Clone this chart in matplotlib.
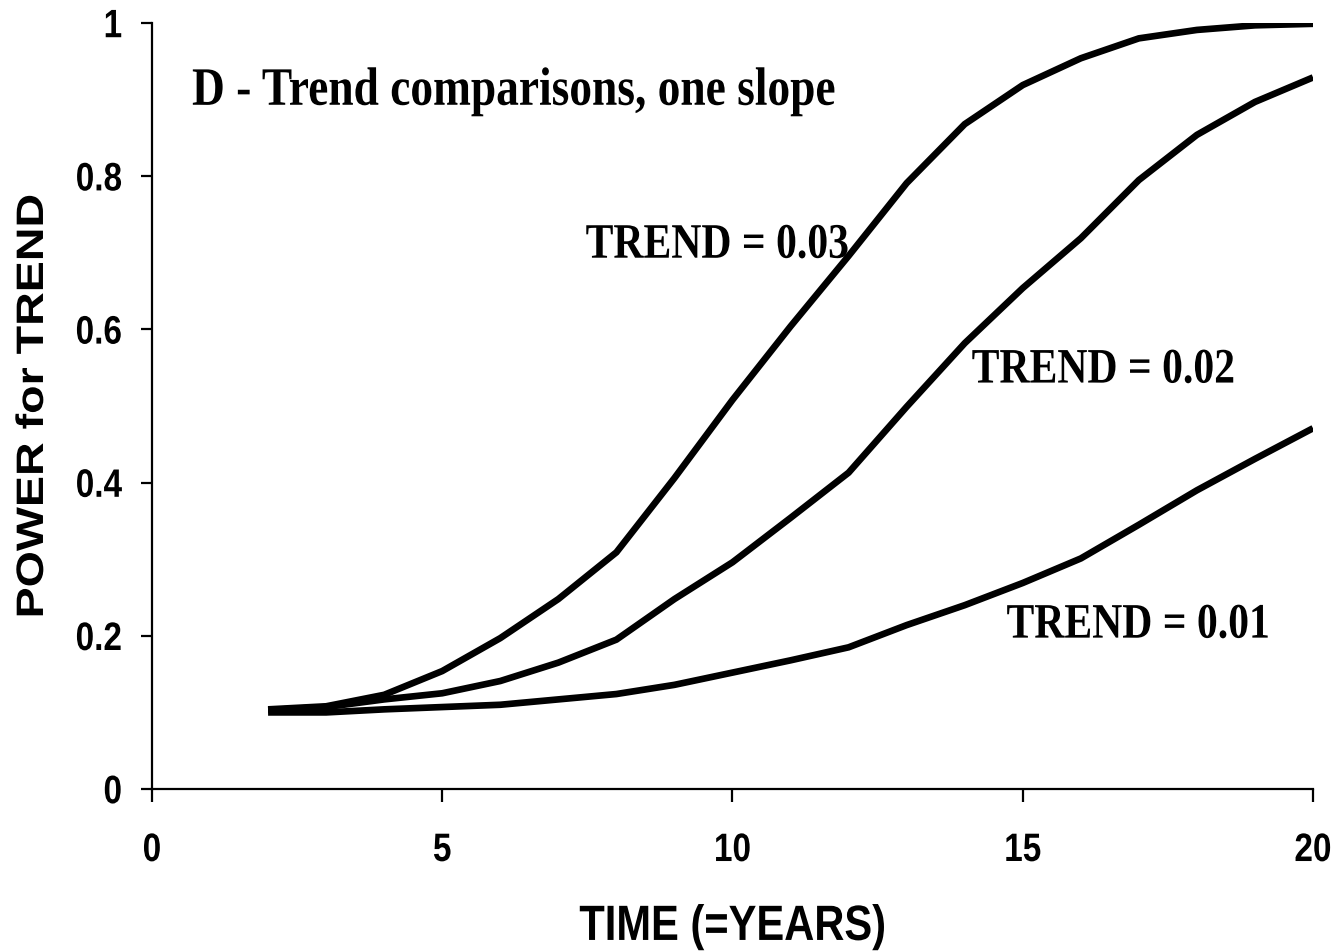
import numpy as np
import matplotlib
matplotlib.use("Agg")
import matplotlib.pyplot as plt
from matplotlib.patheffects import AbstractPathEffect
from matplotlib.transforms import Affine2D

years = np.arange(2, 21)
trend_003 = [0.104, 0.108, 0.123, 0.154, 0.197, 0.248, 0.309, 0.406, 0.508, 0.604,
             0.696, 0.791, 0.868, 0.919, 0.954, 0.980, 0.991, 0.997, 0.999]
trend_002 = [0.103, 0.107, 0.117, 0.125, 0.141, 0.165, 0.195, 0.248, 0.296, 0.354,
             0.413, 0.499, 0.582, 0.654, 0.719, 0.795, 0.854, 0.897, 0.929]
trend_001 = [0.100, 0.100, 0.104, 0.107, 0.110, 0.117, 0.124, 0.136, 0.152, 0.168,
             0.185, 0.214, 0.240, 0.269, 0.301, 0.345, 0.390, 0.431, 0.471]
labels = ["TREND = 0.03", "TREND = 0.02", "TREND = 0.01"]
label_pos = [(7.47, 0.697), (14.12, 0.534), (14.72, 0.201)]
title = "D - Trend comparisons, one slope"


class Stretch(AbstractPathEffect):
    """Scale the glyphs about their own centre (text looks tall and narrow)."""

    def __init__(self, sx=1.0, sy=1.0):
        super().__init__()
        self.sx, self.sy = sx, sy

    def draw_path(self, renderer, gc, tpath, affine, rgbFace=None):
        ext = tpath.get_extents()
        cx, cy = ext.x0 + ext.width / 2, ext.y0 + ext.height / 2
        pre = Affine2D().translate(-cx, -cy).scale(self.sx, self.sy).translate(cx, cy)
        renderer.draw_path(gc, tpath, pre + affine, rgbFace)


tall = [Stretch(1.0, 1.19)]

fig = plt.figure(figsize=(13.39, 9.52), dpi=100)
axis = fig.add_axes([0.1135, 0.1712, 0.8671, 0.8046])

for series in (trend_003, trend_002, trend_001):
    axis.plot(years, series, color="black", linewidth=4.8,
              solid_joinstyle="miter", solid_capstyle="butt")

serif = "Liberation Serif"
for text, (xpos, ypos) in zip(labels, label_pos):
    axis.text(xpos, ypos, text, family=serif, fontweight="bold", fontsize=30,
              ha="left", va="baseline", path_effects=tall)
axis.text(0.69, 0.896, title, family=serif, fontweight="bold", fontsize=32.7,
          ha="left", va="baseline", path_effects=tall)

axis.set_xlim(0, 20)
axis.set_ylim(0, 1)
axis.set_xticks([0, 5, 10, 15, 20])
axis.set_yticks([0, 0.2, 0.4, 0.6, 0.8, 1])
axis.set_yticklabels(["0", "0.2", "0.4", "0.6", "0.8", "1"])
for side in ("top", "right"):
    axis.spines[side].set_visible(False)
for side in ("left", "bottom"):
    axis.spines[side].set_linewidth(1.6)
axis.tick_params(axis="both", direction="out", width=1.6, labelsize=24)
axis.tick_params(axis="y", length=8, pad=13.5)
axis.tick_params(axis="x", length=9, pad=24)
for lab in axis.get_xticklabels() + axis.get_yticklabels():
    lab.set_family("Liberation Sans")
    lab.set_fontweight("bold")
    lab.set_path_effects(tall)

axis.set_xlabel("TIME (=YEARS)", family="Liberation Sans", fontweight="bold",
                fontsize=30, path_effects=tall)
axis.xaxis.set_label_coords(0.5, -0.180)
axis.xaxis.label.set_verticalalignment("center")
axis.set_ylabel("POWER for TREND", family="Liberation Sans", fontweight="bold",
                fontsize=27.5, path_effects=[Stretch(1.22, 1.0)])
axis.yaxis.set_label_coords(-0.1025, 0.5)
axis.yaxis.label.set_verticalalignment("center")

fig.savefig("out.png", dpi=100)
plt.close()
